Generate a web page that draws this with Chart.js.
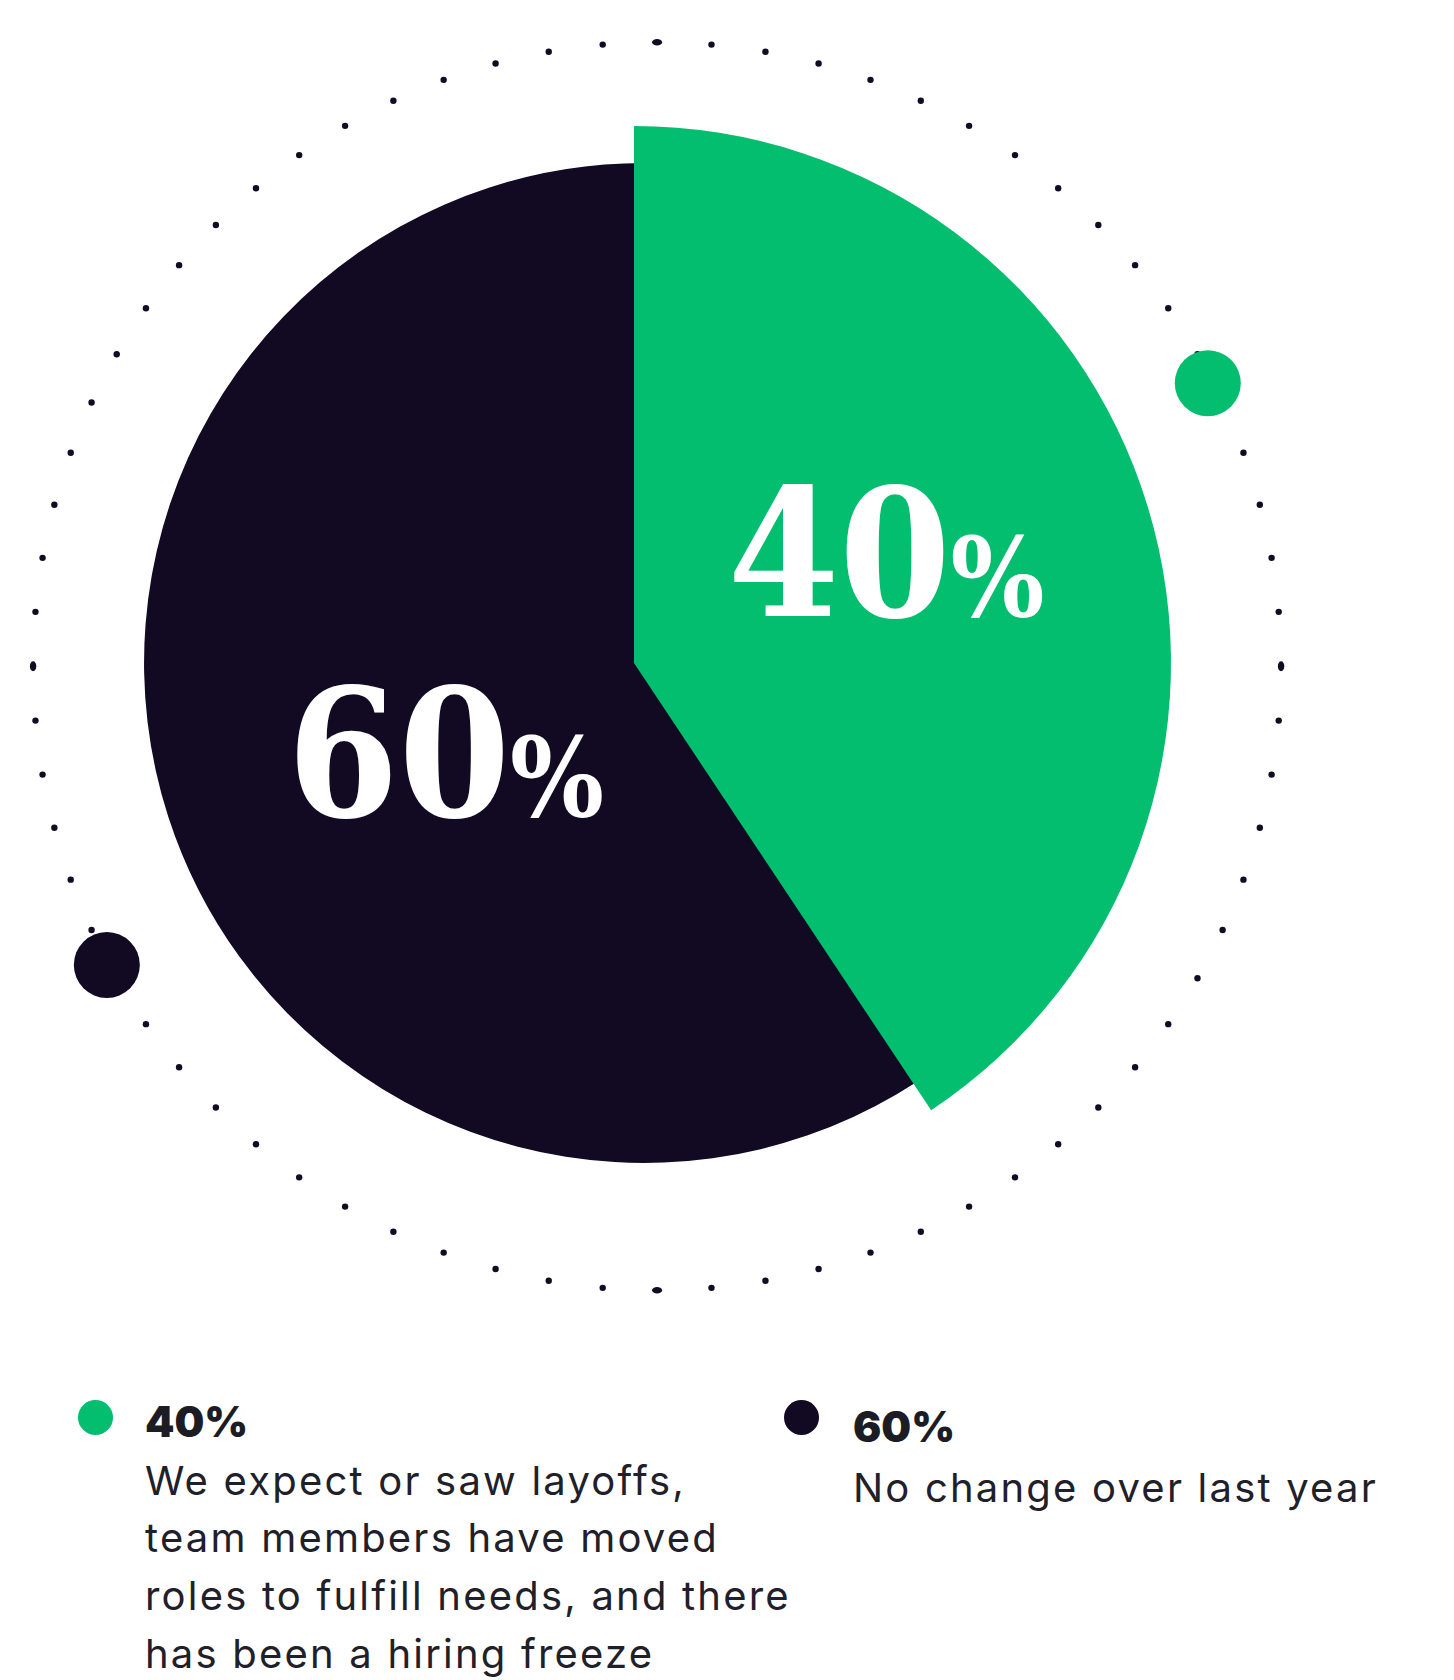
<!DOCTYPE html>
<html>
<head>
<meta charset="utf-8">
<script src="https://cdn.jsdelivr.net/npm/chart.js@4.4.0/dist/chart.umd.min.js"></script>
<style>
  html, body { margin: 0; padding: 0; background: #fff; }
  body { width: 1454px; height: 1680px; position: relative; overflow: hidden;
         font-family: Inter, "Open Sans", sans-serif; color: #1f2029; }
  #chartBox { position: absolute; left: 0; top: 0; width: 1454px; height: 1330px; }
  .item { position: absolute; }
  .item .dot { position: absolute; width: 35px; height: 35px; border-radius: 50%; }
  .item .pct { position: absolute; left: 0; white-space: nowrap; font-weight: 900;
               font-size: 42px; line-height: 50px; color: #1c1d24; }
  .item .desc { position: absolute; left: 0; white-space: nowrap; font-size: 40px;
                letter-spacing: 2.2px; line-height: 57.7px; }
</style>
</head>
<body>
<div id="chartBox"><canvas id="pieChart"></canvas></div>
<div id="legend"></div>
<script>
// data, in legend order
const labels = [
  ["We expect or saw layoffs,", "team members have moved", "roles to fulfill needs, and there", "has been a hiring freeze"],
  ["No change over last year"]
];
const values = [40, 60];
const colors = ["#03be6f", "#110a22"];
const inkColor = "#120b23";

const total = values.reduce((a, b) => a + b, 0);
// dark slice is drawn first so the green one sits on top of it
const drawOrder = [1, 0];

// dotted ring, the two big dots and the shape tweaks of the slices
const decorPlugin = {
  id: "decor",
  afterDatasetsUpdate(chart) {
    const arcs = chart.getDatasetMeta(0).data;
    const r = arcs[1].outerRadius; // green slice is the full radius
    arcs[0].outerRadius = r * 0.931;
    arcs[0].x += r * 0.0186;
    arcs[1].endAngle += 2.4 * Math.PI / 180; // green edge sits a little past 40% in the artwork
  },
  beforeDatasetsDraw(chart) {
    const ctx = chart.ctx;
    const area = chart.chartArea;
    const r = chart.getDatasetMeta(0).data[1].outerRadius;
    const cx = (area.left + area.right) / 2 + r * 0.043;
    const cy = (area.top + area.bottom) / 2 + r * 0.006;
    const ringR = r * 1.162;
    ctx.save();
    ctx.fillStyle = inkColor;
    for (let k = 0; k < 72; k++) {
      const a = (k * 5) * Math.PI / 180;
      const px = cx + ringR * Math.sin(a), py = cy - ringR * Math.cos(a);
      ctx.beginPath();
      if (k % 18 === 0) {
        // the four cardinal dots come out as short dashes
        const along = k % 36 === 0;
        ctx.ellipse(px, py, along ? 5 : 3.2, along ? 3.2 : 5, 0, 0, Math.PI * 2);
      } else {
        ctx.arc(px, py, 3.2, 0, Math.PI * 2);
      }
      ctx.fill();
    }
    const bigDots = [[62.8, 1.153, colors[0]], [241.5, 1.166, colors[1]]];
    bigDots.forEach(([deg, f, c]) => {
      const a = deg * Math.PI / 180;
      ctx.fillStyle = c;
      ctx.beginPath();
      ctx.arc(cx + r * f * Math.sin(a), cy - r * f * Math.cos(a), 33, 0, Math.PI * 2);
      ctx.fill();
    });
    ctx.restore();
  },
  afterDatasetsDraw(chart) {
    const ctx = chart.ctx;
    const arcs = chart.getDatasetMeta(0).data;
    const r = arcs[1].outerRadius;
    const cx = arcs[1].x, cy = arcs[1].y;
    // label spot per slice (chart order): angle from top in degrees, distance as share of radius
    const spots = [[245, 0.387], [66, 0.514]];
    const big = 178, small = 110;
    const face = '"DejaVu Serif Condensed", "DejaVu Serif", serif';
    ctx.save();
    ctx.fillStyle = "#ffffff";
    ctx.textBaseline = "alphabetic";
    ctx.textAlign = "left";
    arcs.forEach((arc, i) => {
      const v = String(chart.data.datasets[0].data[i]);
      const a = spots[i][0] * Math.PI / 180;
      const x = cx + r * spots[i][1] * Math.sin(a);
      const y = cy - r * spots[i][1] * Math.cos(a);
      ctx.font = `bold ${big}px ${face}`;
      const w1 = ctx.measureText(v).width;
      ctx.font = `bold ${small}px ${face}`;
      const w2 = ctx.measureText("%").width;
      const left = x - (w1 + w2) / 2;
      const base = y + big * 0.729 / 2;
      ctx.font = `bold ${big}px ${face}`;
      ctx.fillText(v, left, base);
      ctx.font = `bold ${small}px ${face}`;
      ctx.fillText("%", left + w1, base);
    });
    ctx.restore();
  }
};

const ctx = document.getElementById("pieChart").getContext("2d");
const chart = new Chart(ctx, {
  type: "pie",
  data: {
    labels: drawOrder.map((i) => labels[i]),
    datasets: [
      {
        data: drawOrder.map((i) => values[i]),
        backgroundColor: drawOrder.map((i) => colors[i]),
        borderWidth: 0,
        hoverOffset: 0,
        offset: 0,
      },
    ],
  },
  options: {
    responsive: true,
    maintainAspectRatio: false,
    animation: false,
    events: [],
    rotation: (values[0] / total) * 360,
    layout: { padding: { left: 97, right: 283, top: 126, bottom: 130 } },
    plugins: { legend: { display: false }, tooltip: { enabled: false } },
  },
  plugins: [decorPlugin],
});

// html legend
const legendSpots = [
  { left: 145, dotX: 78, dotY: 1400, pctTop: 1397, descTop: 1451.6 },
  { left: 853, dotX: 784, dotY: 1400, pctTop: 1402, descTop: 1458.6 },
];
const legend = document.getElementById("legend");
labels.forEach((lines, i) => {
  const s = legendSpots[i];
  const dot = document.createElement("div");
  dot.className = "item";
  dot.innerHTML = `<div class="dot" style="left:${s.dotX}px;top:${s.dotY}px;background:${colors[i]}"></div>`;
  legend.appendChild(dot);
  const item = document.createElement("div");
  item.className = "item";
  item.style.left = s.left + "px";
  item.style.top = "0px";
  item.innerHTML = `
      <div class="pct" style="top:${s.pctTop}px">${values[i]}%</div>
      <div class="desc" style="top:${s.descTop}px">${lines.join("<br>")}</div>
  `;
  legend.appendChild(item);
});
</script>
</body>
</html>
